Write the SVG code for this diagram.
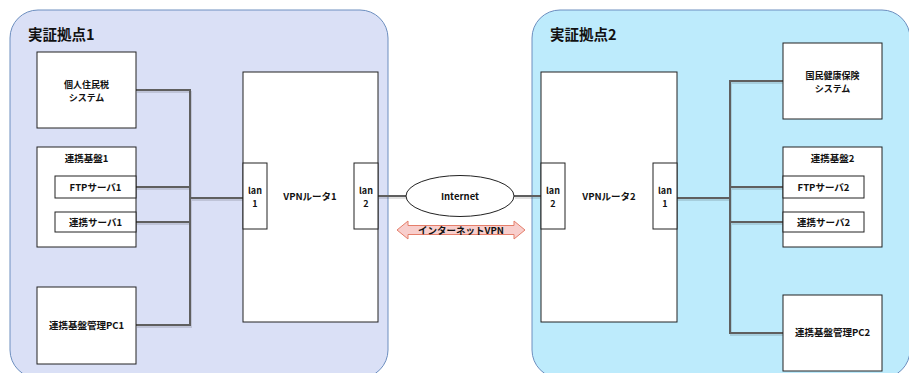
<svg xmlns="http://www.w3.org/2000/svg" width="909" height="373" viewBox="0 0 909 373">
<style>
.t{font-family:"Noto Sans CJK JP","Liberation Sans",sans-serif;font-weight:bold;fill:#111;text-anchor:middle}
.s{font-size:9.5px}
.m{font-size:9px}
.title{font-size:14.5px;text-anchor:start}
.box{fill:#fff;stroke:#222;stroke-width:1}
.c{fill:none;stroke:#5f5f5f;stroke-width:2}
.sh{fill:none;stroke:#000;stroke-opacity:0.12;stroke-width:2}
</style>
<rect x="10" y="10" width="378" height="368" rx="28" fill="#dae0f6" stroke="#6c8ebf"/>
<rect x="532" y="10" width="378" height="368" rx="28" fill="#bdebfc" stroke="#6c8ebf"/>
<text class="t title" x="28" y="40">実証拠点1</text>
<text class="t title" x="550" y="40">実証拠点2</text>

<g id="connectors">
<g transform="translate(1,2)">
<path class="sh" d="M136 90H190V325H136M136 187H190M136 222H190M190 198H243"/>
<path class="sh" d="M378 196H406M514 196H541"/>
<path class="sh" d="M783 81H730V333H783M783 187H730M783 222H730M730 198H677"/>
</g>
<path class="c" d="M136 90H190V325H136M136 187H190M136 222H190"/>
<path class="c" d="M190 198H243" stroke-width="3"/>
<path class="c" d="M378 196H406M514 196H541"/>
<path class="c" d="M783 81H730V333H783M783 187H730M783 222H730"/>
<path class="c" d="M730 198H677" stroke-width="3"/>
</g>

<g id="juminzei">
<rect class="box" x="37" y="52" width="99" height="76"/>
<text class="t m" x="86.5" y="88">個人住民税</text>
<text class="t m" x="86.5" y="101">システム</text>
</g>
<g id="kiban1">
<rect class="box" x="37" y="147" width="99" height="100"/>
<text class="t s" x="86.5" y="162">連携基盤1</text>
</g>
<g id="ftp1">
<rect class="box" x="55" y="176" width="81" height="22"/>
<text class="t s" x="95.5" y="190.5">FTPサーバ1</text>
</g>
<g id="renkei1">
<rect class="box" x="55" y="212" width="81" height="20"/>
<text class="t s" x="95.5" y="225.5">連携サーバ1</text>
</g>
<g id="pc1">
<rect class="box" x="37" y="287" width="99" height="77"/>
<text class="t s" x="86.5" y="329">連携基盤管理PC1</text>
</g>
<g id="router1">
<rect class="box" x="243" y="72" width="135" height="250"/>
<text class="t s" x="310" y="200">VPNルータ1</text>
</g>
<g id="r1lan1">
<rect class="box" x="243" y="163" width="24" height="66"/>
<text class="t m" x="255" y="194">lan</text>
<text class="t m" x="255" y="207">1</text>
</g>
<g id="r1lan2">
<rect class="box" x="354" y="163" width="24" height="66"/>
<text class="t m" x="366" y="194">lan</text>
<text class="t m" x="366" y="207">2</text>
</g>
<g id="internet">
<ellipse cx="460" cy="196" rx="54" ry="20.5" fill="#fff" stroke="#222"/>
<text class="t s" x="460" y="199.5">Internet</text>
</g>
<g id="vpnarrow">
<path d="M397 230L408 221V225.5H514V221L525 230L514 239V234.5H408V239Z" fill="#f8cecc" stroke="#e57e6a"/>
<text class="t s" x="461" y="233.5">インターネットVPN</text>
</g>

<g id="router2">
<rect class="box" x="541" y="72" width="136" height="250"/>
<text class="t s" x="609" y="200">VPNルータ2</text>
</g>
<g id="r2lan2">
<rect class="box" x="541" y="163" width="24" height="66"/>
<text class="t m" x="553" y="194">lan</text>
<text class="t m" x="553" y="207">2</text>
</g>
<g id="r2lan1">
<rect class="box" x="653" y="163" width="24" height="66"/>
<text class="t m" x="665" y="194">lan</text>
<text class="t m" x="665" y="207">1</text>
</g>
<g id="kokuho">
<rect class="box" x="783" y="43" width="99" height="76"/>
<text class="t m" x="832.5" y="79">国民健康保険</text>
<text class="t m" x="832.5" y="92">システム</text>
</g>
<g id="kiban2">
<rect class="box" x="783" y="147" width="99" height="100"/>
<text class="t s" x="832.5" y="162">連携基盤2</text>
</g>
<g id="ftp2">
<rect class="box" x="783" y="176" width="81" height="22"/>
<text class="t s" x="823.5" y="190.5">FTPサーバ2</text>
</g>
<g id="renkei2">
<rect class="box" x="783" y="212" width="81" height="20"/>
<text class="t s" x="823.5" y="225.5">連携サーバ2</text>
</g>
<g id="pc2">
<rect class="box" x="783" y="295" width="99" height="76"/>
<text class="t s" x="832.5" y="336">連携基盤管理PC2</text>
</g>
</svg>
